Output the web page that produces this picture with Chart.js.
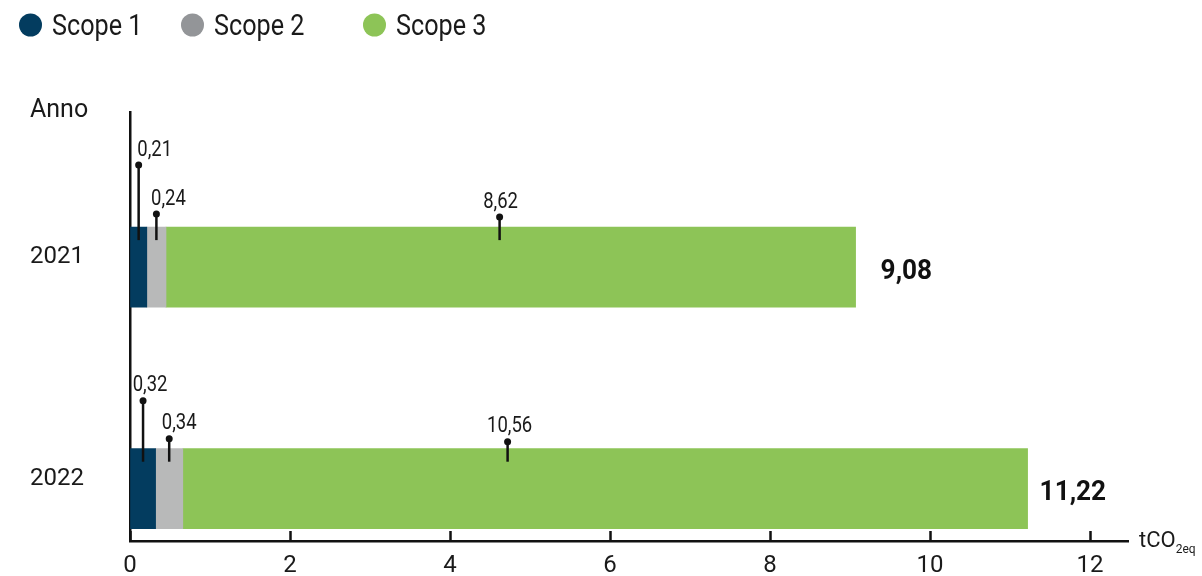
<!DOCTYPE html>
<html><head><meta charset="utf-8">
<script src="https://cdn.jsdelivr.net/npm/chart.js@4"></script>
<style>html,body{margin:0;padding:0;background:#fff;}#wrap{width:1202px;height:576px;position:relative;}</style>
</head><body><div id="wrap"><canvas id="c" width="1202" height="576"></canvas></div>
<script>
// ---- data ----
const years = ['2021', '2022'];
const seriesNames = ['Scope 1', 'Scope 2', 'Scope 3'];
const scope1 = [0.21, 0.32];
const scope2 = [0.24, 0.34];
const scope3 = [8.62, 10.56];
const totals = [9.08, 11.22];
const xTicks = [0, 2, 4, 6, 8, 10, 12];
const yAxisTitle = 'Anno';
const unitMain = 'tCO';
const unitSub = '2eq';

// ---- styles ----
const FONT = 'Roboto, "Noto Sans", sans-serif';
const barColors = ['#033c5f', '#b8b9b9', '#8dc457'];
const legendColors = ['#033c5f', '#939598', '#8dc457'];
const TXT = '#1a1a1a';
const fmt = v => v.toFixed(2).replace('.', ',');

const seriesValues = [scope1, scope2, scope3];

// draw text horizontally condensed
function cText(ctx, str, x, y, font, sx, align) {
  ctx.save();
  ctx.font = font;
  ctx.textBaseline = 'middle';
  ctx.textAlign = align || 'left';
  ctx.translate(x, y);
  ctx.scale(sx, 1);
  ctx.fillText(str, 0, 0);
  ctx.restore();
}

const decor = {
  id: 'decor',
  afterDatasetsDraw(chart, args, o) {
    const ctx = chart.ctx;
    const xs = chart.scales.x;
    ctx.save();
    seriesValues.forEach((vals, d) => {
      const meta = chart.getDatasetMeta(d);
      meta.data.forEach((bar, i) => {
        const p = bar.getProps(['x', 'y', 'base', 'height'], true);
        const top = p.y - p.height / 2;
        let px = (p.base + p.x) / 2;
        if (o.pinValue[d] && o.pinValue[d][i] != null) px = xs.getPixelForValue(o.pinValue[d][i]);
        const dotY = top - o.pinAbove[d][i];
        const endY = top + o.pinInto;
        ctx.strokeStyle = '#111'; ctx.lineWidth = 2.5;
        ctx.beginPath(); ctx.moveTo(px, dotY); ctx.lineTo(px, endY); ctx.stroke();
        ctx.fillStyle = '#111';
        ctx.beginPath(); ctx.arc(px, dotY, 3.5, 0, Math.PI * 2); ctx.fill();
        ctx.fillStyle = TXT;
        cText(ctx, fmt(vals[i]), px + o.labelDx[d][i], dotY - 15, '22px ' + FONT, 0.84, 'center');
      });
    });
    const lastMeta = chart.getDatasetMeta(seriesValues.length - 1);
    lastMeta.data.forEach((bar, i) => {
      const p = bar.getProps(['x', 'y'], true);
      ctx.fillStyle = '#111';
      cText(ctx, fmt(totals[i]), p.x + o.totalDx[i], p.y + 5, 'bold 27px ' + FONT, 0.97, 'left');
    });
    ctx.restore();
  },
  afterDraw(chart, args, o) {
    const ctx = chart.ctx;
    const xs = chart.scales.x;
    const ca = chart.chartArea;
    ctx.save();
    ctx.strokeStyle = '#111'; ctx.lineWidth = 2.5;
    xs.ticks.forEach(t => {
      const px = Math.round(xs.getPixelForValue(t.value)) + 0.5;
      ctx.beginPath(); ctx.moveTo(px, ca.bottom); ctx.lineTo(px, ca.bottom - 10); ctx.stroke();
    });
    chart.data.datasets.forEach((ds, i) => {
      const x = o.legendX[i];
      ctx.fillStyle = legendColors[i];
      ctx.beginPath(); ctx.arc(x + 11.5, 25, 11.5, 0, Math.PI * 2); ctx.fill();
      ctx.fillStyle = TXT;
      cText(ctx, ds.label, x + 33, 27, '30px ' + FONT, 0.84, 'left');
    });
    ctx.fillStyle = TXT;
    cText(ctx, yAxisTitle, 30, 111, '25px ' + FONT, 1, 'left');
    ctx.font = '22px ' + FONT;
    ctx.textAlign = 'left';
    ctx.textBaseline = 'alphabetic';
    ctx.fillText(unitMain, 1139, 547);
    const w = ctx.measureText(unitMain).width;
    ctx.font = '12px ' + FONT;
    ctx.fillText(unitSub, 1139 + w, 553);
    ctx.restore();
  }
};

new Chart(document.getElementById('c'), {
  type: 'bar',
  data: {
    labels: years,
    datasets: seriesNames.map((n, i) => ({
      label: n,
      data: seriesValues[i],
      backgroundColor: barColors[i],
      borderWidth: 0,
      barThickness: 80
    }))
  },
  options: {
    indexAxis: 'y',
    responsive: false,
    animation: false,
    layout: { padding: { top: 112, left: 30, right: 74, bottom: 0 } },
    plugins: {
      legend: { display: false },
      tooltip: { enabled: false },
      decor: {
        legendX: [19, 181, 363],
        pinAbove: [[62, 48], [13, 10], [10, 7]],
        pinInto: 13,
        pinValue: [null, null, [4.62, 4.72]],
        labelDx: [[16, 7], [12, 10], [1, 2]],
        totalDx: [25, 12]
      }
    },
    scales: {
      x: {
        type: 'linear', stacked: true, min: 0, max: 12.475, offset: false,
        afterBuildTicks: s => { s.ticks = xTicks.map(v => ({ value: v })); },
        afterFit: s => { s.height = 35; },
        grid: { display: true, drawOnChartArea: false, drawTicks: false, color: 'rgba(0,0,0,0)' },
        border: { display: true, color: '#111', width: 2.5 },
        ticks: { padding: 11, color: TXT, font: { family: FONT, size: 24 }, callback: v => String(v) }
      },
      y: {
        type: 'linear', stacked: true, reverse: true, min: 2020.30, max: 2022.236, offset: false,
        afterBuildTicks: s => { s.ticks = years.map(v => ({ value: +v })); },
        afterFit: s => { s.width = 100; },
        grid: { display: true, drawOnChartArea: false, drawTicks: false, offset: false, color: 'rgba(0,0,0,0)' },
        border: { display: true, color: '#111', width: 2.5 },
        ticks: { crossAlign: 'far', labelOffset: -10, color: TXT, font: { family: FONT, size: 24 }, callback: v => String(v) }
      }
    }
  },
  plugins: [decor]
});
</script>
</body></html>
